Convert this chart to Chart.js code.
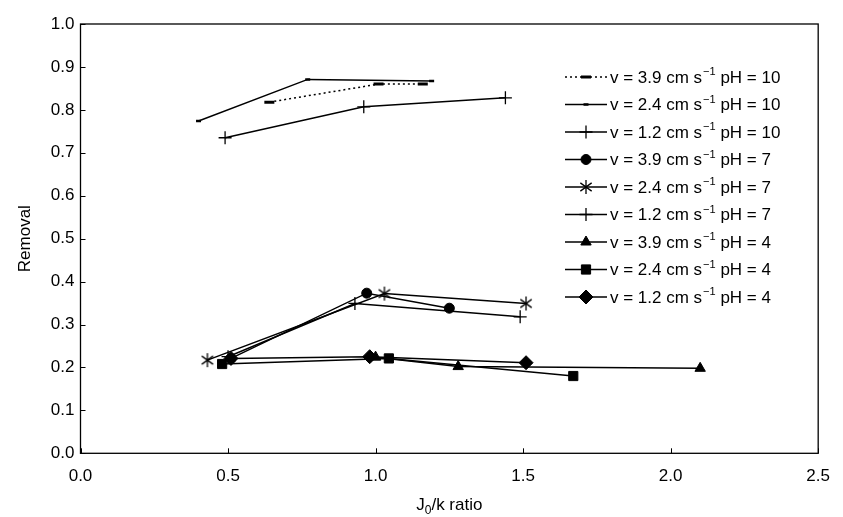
<!DOCTYPE html>
<html lang="en">
<head>
    <meta charset="UTF-8">
    <title>Removal vs J0/k ratio</title>
    <script src="https://cdn.jsdelivr.net/npm/chart.js"></script>
    <style>
        html, body { margin: 0; padding: 0; background: #fff; }
        #wrap { width: 843px; height: 517px; }
    </style>
</head>
<body>
    <div id="wrap"><canvas id="myChart" width="843" height="517"></canvas></div>

    <script>
        // axis ticks
        const xTicks = [0.0, 0.5, 1.0, 1.5, 2.0, 2.5];
        const yTicks = [0.0, 0.1, 0.2, 0.3, 0.4, 0.5, 0.6, 0.7, 0.8, 0.9, 1.0];

        // series labels: [velocity, pH]
        const seriesVel = ['3.9', '2.4', '1.2', '3.9', '2.4', '1.2', '3.9', '2.4', '1.2'];
        const seriesPH = ['10', '10', '10', '7', '7', '7', '4', '4', '4'];

        // pH 10
        const x39ph10 = [0.64, 1.01, 1.16];
        const y39ph10 = [0.818, 0.860, 0.860];
        const x24ph10 = [0.40, 0.77, 1.19];
        const y24ph10 = [0.774, 0.871, 0.867];
        const x12ph10 = [0.49, 0.96, 1.44];
        const y12ph10 = [0.735, 0.807, 0.828];
        // pH 7
        const x39ph7 = [0.51, 0.97, 1.25];
        const y39ph7 = [0.221, 0.373, 0.338];
        const x24ph7 = [0.43, 1.03, 1.51];
        const y24ph7 = [0.217, 0.372, 0.349];
        const x12ph7 = [0.50, 0.93, 1.49];
        const y12ph7 = [0.225, 0.349, 0.318];
        // pH 4
        const x39ph4 = [1.00, 1.28, 2.10];
        const y39ph4 = [0.224, 0.202, 0.198];
        const x24ph4 = [0.48, 1.045, 1.67];
        const y24ph4 = [0.208, 0.221, 0.180];
        const x12ph4 = [0.51, 0.98, 1.51];
        const y12ph4 = [0.221, 0.225, 0.211];

        const FONT = '"Liberation Sans", Arial, sans-serif';

        // asterisk marker (vertical bar + X)
        function makeStar(r) {
            const c = document.createElement('canvas');
            const s = Math.ceil(r * 2 + 4);
            c.width = s; c.height = s;
            const g = c.getContext('2d');
            const m = s / 2;
            g.strokeStyle = '#000';
            g.lineWidth = 1.3;
            g.beginPath();
            g.moveTo(m, m - r); g.lineTo(m, m + r);
            const dx = r * Math.cos(Math.PI / 5), dy = r * Math.sin(Math.PI / 5);
            g.moveTo(m - dx, m - dy); g.lineTo(m + dx, m + dy);
            g.moveTo(m - dx, m + dy); g.lineTo(m + dx, m - dy);
            g.stroke();
            return c;
        }
        const starImg = makeStar(7);

        const toPts = (xs, ys) => xs.map((x, i) => ({ x: x, y: ys[i] }));

        const styles = [
            { pointStyle: 'line', radius: 5, bw: 3, dash: [2, 3] },
            { pointStyle: 'line', radius: 2.5, bw: 2.5, dash: [] },
            { pointStyle: 'cross', radius: 6.5, bw: 1.3, dash: [] },
            { pointStyle: 'circle', radius: 5, bw: 1, dash: [] },
            { pointStyle: starImg, radius: 7, bw: 1, dash: [] },
            { pointStyle: 'cross', radius: 6.5, bw: 1.3, dash: [] },
            { pointStyle: 'triangle', radius: 6, bw: 1, dash: [] },
            { pointStyle: 'rect', radius: 6.5, bw: 1, dash: [] },
            { pointStyle: 'rectRot', radius: 7, bw: 1, dash: [] }
        ];

        const seriesData = [
            toPts(x39ph10, y39ph10), toPts(x24ph10, y24ph10), toPts(x12ph10, y12ph10),
            toPts(x39ph7, y39ph7), toPts(x24ph7, y24ph7), toPts(x12ph7, y12ph7),
            toPts(x39ph4, y39ph4), toPts(x24ph4, y24ph4), toPts(x12ph4, y12ph4)
        ];

        const datasets = seriesData.map((d, i) => ({
            label: 'v = ' + seriesVel[i] + ' cm s-1 pH = ' + seriesPH[i],
            data: d,
            showLine: true,
            borderColor: '#000',
            backgroundColor: '#000',
            borderWidth: 1.5,
            borderDash: styles[i].dash,
            pointStyle: styles[i].pointStyle,
            pointRadius: styles[i].radius,
            pointHoverRadius: styles[i].radius,
            pointBorderWidth: styles[i].bw,
            pointBackgroundColor: '#000',
            pointBorderColor: '#000',
            tension: 0
        }));

        // frame, inward ticks, x title with subscript, legend
        const decorPlugin = {
            id: 'decor',
            afterDraw(chart) {
                const ctx = chart.ctx;
                const a = chart.chartArea;
                const xs = chart.scales.x, ys = chart.scales.y;
                ctx.save();
                ctx.strokeStyle = '#000';
                ctx.lineWidth = 1.3;
                ctx.strokeRect(a.left, a.top, a.right - a.left, a.bottom - a.top);
                ctx.lineWidth = 1;
                ctx.beginPath();
                xTicks.forEach(v => {
                    const px = Math.round(xs.getPixelForValue(v)) + 0.5;
                    ctx.moveTo(px, a.bottom); ctx.lineTo(px, a.bottom - 5);
                });
                yTicks.forEach(v => {
                    const py = Math.round(ys.getPixelForValue(v)) + 0.5;
                    ctx.moveTo(a.left, py); ctx.lineTo(a.left + 5, py);
                });
                ctx.stroke();

                // x axis title: J0/k ratio
                ctx.fillStyle = '#000';
                ctx.textBaseline = 'alphabetic';
                ctx.textAlign = 'left';
                const big = '17px ' + FONT, small = '12px ' + FONT;
                ctx.font = big;
                const wJ = ctx.measureText('J').width;
                const wRest = ctx.measureText('/k ratio').width;
                ctx.font = small;
                const w0 = ctx.measureText('0').width;
                let tx = (a.left + a.right) / 2 - (wJ + w0 + wRest) / 2;
                const ty = 510;
                ctx.font = big; ctx.fillText('J', tx, ty); tx += wJ;
                ctx.font = small; ctx.fillText('0', tx, ty + 4); tx += w0;
                ctx.font = big; ctx.fillText('/k ratio', tx, ty);

                // legend
                const lx0 = 565, lx1 = 607, ly0 = 77, step = 27.5;
                chart.data.datasets.forEach((ds, i) => {
                    const y = ly0 + i * step;
                    ctx.strokeStyle = '#000';
                    ctx.fillStyle = '#000';
                    ctx.lineWidth = 1.5;
                    ctx.setLineDash(ds.borderDash);
                    ctx.beginPath();
                    ctx.moveTo(lx0, y); ctx.lineTo(lx1, y);
                    ctx.stroke();
                    ctx.setLineDash([]);
                    ctx.lineWidth = ds.pointBorderWidth;
                    Chart.helpers.drawPoint(ctx, {
                        pointStyle: ds.pointStyle,
                        radius: ds.pointRadius,
                        rotation: 0,
                        borderWidth: ds.pointBorderWidth
                    }, (lx0 + lx1) / 2, y);

                    ctx.textBaseline = 'middle';
                    let x = lx1 + 3;
                    const t1 = 'v = ' + seriesVel[i] + ' cm s';
                    ctx.font = '17px ' + FONT;
                    ctx.fillText(t1, x, y + 1);
                    x += ctx.measureText(t1).width + 1;
                    ctx.font = '11px ' + FONT;
                    ctx.fillText('\u22121', x, y - 5);
                    x += ctx.measureText('\u22121').width;
                    ctx.font = '17px ' + FONT;
                    ctx.fillText(' pH = ' + seriesPH[i], x, y + 1);
                });
                ctx.restore();
            }
        };

        const ctx = document.getElementById('myChart').getContext('2d');
        const myChart = new Chart(ctx, {
            type: 'scatter',
            data: { datasets: datasets },
            options: {
                responsive: false,
                animation: false,
                events: [],
                layout: { padding: { top: 24, right: 17, bottom: 0, left: 0 } },
                plugins: {
                    legend: { display: false },
                    tooltip: { enabled: false }
                },
                scales: {
                    x: {
                        type: 'linear',
                        min: 0,
                        max: 2.5,
                        afterFit: s => { s.height = 63.7; },
                        afterBuildTicks: s => { s.ticks = xTicks.map(v => ({ value: v })); },
                        grid: { display: false, drawTicks: false },
                        border: { display: false },
                        ticks: {
                            color: '#000',
                            padding: 13,
                            font: { family: FONT, size: 17 },
                            callback: v => Number(v).toFixed(1)
                        }
                    },
                    y: {
                        type: 'linear',
                        min: 0,
                        max: 1,
                        afterFit: s => { s.width = 80.5; },
                        afterBuildTicks: s => { s.ticks = yTicks.map(v => ({ value: v })); },
                        grid: { display: false, drawTicks: false },
                        border: { display: false },
                        title: {
                            display: true,
                            text: 'Removal',
                            color: '#000',
                            font: { family: FONT, size: 17 },
                            padding: { top: 15, bottom: 0 }
                        },
                        ticks: {
                            color: '#000',
                            padding: 6,
                            font: { family: FONT, size: 17 },
                            callback: v => Number(v).toFixed(1)
                        }
                    }
                }
            },
            plugins: [decorPlugin]
        });
    </script>
</body>
</html>
